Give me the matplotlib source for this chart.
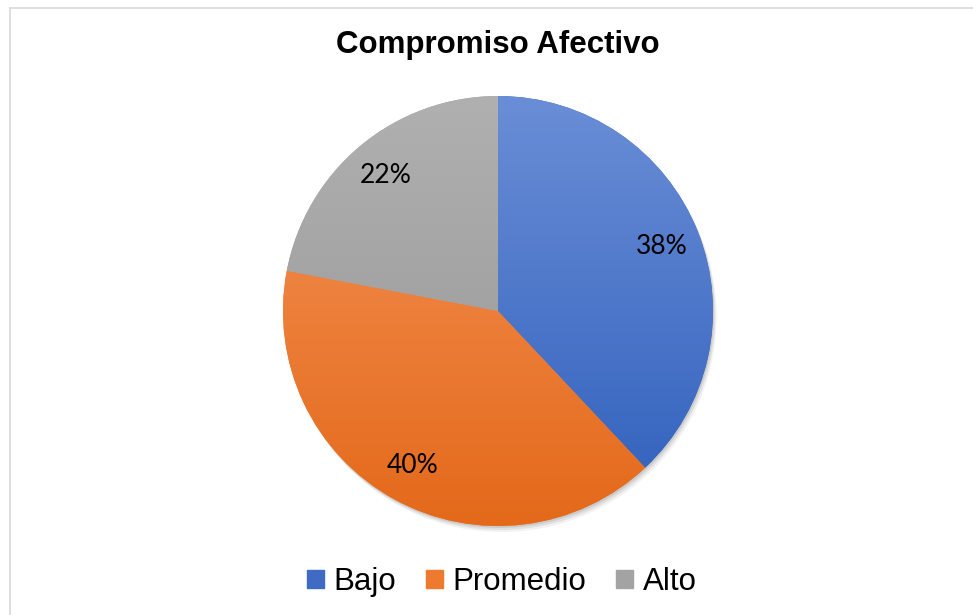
import numpy as np
import matplotlib.pyplot as plt
from matplotlib.colors import LinearSegmentedColormap
from matplotlib.patches import Circle, Rectangle

categories = ['Bajo', 'Promedio', 'Alto']
values = [38, 40, 22]
labels = ['38%', '40%', '22%']
# light (top) and dark (bottom) tone of each slice
tones_top = ['#6A8ED6', '#F4945A', '#B0B0B0']
tones_bottom = ['#2F5FBC', '#E4691A', '#959595']
legend_colors = ['#3F6BC4', '#EE7A30', '#A3A3A3']

W, H = 973, 615
fig = plt.figure(figsize=(W / 100, H / 100), dpi=100)
ax = fig.add_axes([0, 0, 1, 1])

cx, cy, r = 498, H - 311, 215

# soft shadow under the pie
for k, a in zip([6, 4, 2], [0.05, 0.07, 0.09]):
    ax.add_patch(Circle((cx + k * 0.6, cy - k), r, color='black', alpha=a, lw=0, zorder=1))

wedges, _ = ax.pie(values, startangle=90, counterclock=False, radius=r,
                   center=(cx, cy), colors=legend_colors,
                   wedgeprops=dict(linewidth=0, zorder=2), frame=True)

grad = np.linspace(0, 1, 256).reshape(-1, 1)
for w, top, bot in zip(wedges, tones_top, tones_bottom):
    cmap = LinearSegmentedColormap.from_list('g', [top, bot])
    im = ax.imshow(grad, cmap=cmap, aspect='auto', zorder=3,
                   extent=[cx - r, cx + r, cy - r, cy + r], origin='upper')
    im.set_clip_path(w)

# percentage labels
theta = 90.0
for v, lab in zip(values, labels):
    span = v / sum(values) * 360
    mid = np.deg2rad(theta - span / 2)
    theta -= span
    ax.text(cx + 0.82 * r * np.cos(mid), cy + 0.82 * r * np.sin(mid), lab,
            ha='center', va='center', fontsize=19, family=['Lato', 'DejaVu Sans'],
            color='black', zorder=5)

ax.set_xlim(0, W)
ax.set_ylim(0, H)
ax.set_aspect('auto')
ax.axis('off')

# chart border
ax.add_patch(Rectangle((9.5, -5), W + 10, H - 7.5 + 5, fill=False,
                       edgecolor='#D9D9D9', lw=1.2, zorder=0))

ax.text(498, H - 45, 'Compromiso Afectivo', ha='center', va='center',
        fontsize=22.5, fontweight='bold', family='Liberation Sans', color='black')

handles = [Rectangle((0, 0), 1, 1, color=c) for c in legend_colors]
fig.legend(handles, categories, loc='center', bbox_to_anchor=(502 / W, 1 - 582 / H),
           ncol=3, frameon=False, prop={'family': 'Liberation Sans', 'size': 22.5},
           handlelength=0.55, handleheight=0.55, handletextpad=0.3, columnspacing=0.95)

fig.savefig('out.png', dpi=100)
